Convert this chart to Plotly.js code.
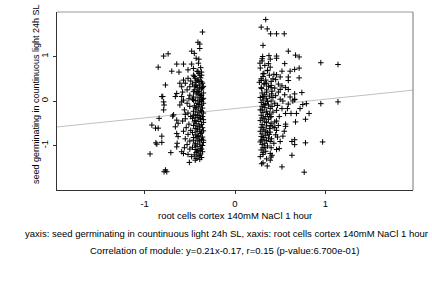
<!DOCTYPE html>
<html>
<head>
<meta charset="utf-8">
<script src="https://cdn.plot.ly/plotly-3.0.1.min.js"></script>
<style>html,body{margin:0;padding:0;background:#fff;}#chart{width:432px;height:288px;}</style>
</head>
<body>
<div id="chart"></div>
<script>
// ---- data ----
const xValues = [
// left cluster: upper part
-0.36,-0.41,-0.39,-0.39,-0.48,-0.45,-0.79,-0.74,-0.40,-0.43,-0.85,-0.645,-0.57,-0.48,-0.405,-0.70,-0.62,-0.52,-0.46,-0.42,-0.38,-0.40,-0.37,
-0.57,-0.61,-0.59,-0.52,-0.46,-0.44,-0.41,-0.39,-0.42,-0.37,-0.50,-0.53,-0.44,-0.39,-0.645,-0.66,-0.59,-0.50,-0.46,-0.41,-0.37,-0.35,-0.39,-0.46,-0.57,-0.77,-0.81,
// left cluster: outliers
-0.80,-0.79,-0.785,-0.79,-0.84,-0.92,-0.88,-0.85,-0.81,-0.876,-0.865,-0.81,-0.94,-0.71,-0.77,-0.755,-0.785,-0.69,-0.68,-0.645,-0.63,-0.66,-0.645,-0.63,-0.64,-0.645,-0.59,-0.57,-0.505,-0.61,-0.59,
// left cluster: dense column
-0.45,-0.38,-0.41,-0.36,-0.44,-0.39,-0.47,-0.42,-0.37,-0.45,-0.40,-0.35,-0.43,-0.38,-0.46,-0.41,-0.36,-0.44,-0.39,-0.35,-0.42,-0.37,-0.45,-0.40,-0.36,-0.43,-0.38,-0.46,-0.41,-0.35,-0.44,-0.39,-0.36,-0.42,-0.47,-0.38,-0.44,-0.40,-0.35,-0.43,-0.37,-0.46,-0.41,-0.36,-0.44,-0.39,-0.35,-0.42,-0.47,-0.38,-0.44,-0.40,-0.36,-0.43,-0.37,-0.46,-0.41,-0.35,-0.44,-0.39,-0.36,-0.42,-0.47,-0.38,-0.44,-0.40,-0.36,-0.43,-0.38,-0.45,-0.41,-0.37,-0.43,
-0.37,-0.40,-0.43,-0.36,-0.39,-0.42,-0.37,-0.40,-0.44,-0.37,-0.41,-0.38,-0.45,-0.39,-0.42,-0.37,-0.41,-0.39,-0.44,-0.37,-0.42,-0.39,-0.46,-0.46,-0.35,-0.35,-0.47,-0.35,
// left cluster: middle band
-0.55,-0.49,-0.53,-0.50,-0.56,-0.52,-0.49,-0.55,-0.58,-0.51,-0.54,-0.49,-0.57,-0.52,-0.55,-0.50,-0.53,-0.56,-0.50,-0.52,-0.48,-0.44,-0.39,-0.55,-0.58,-0.51,
// right cluster: upper part
0.34,0.29,0.357,0.394,0.46,0.545,0.31,0.59,0.67,0.71,0.306,0.376,0.46,0.30,0.46,0.39,0.95,1.14,0.71,0.66,0.61,0.71,0.59,0.59,0.50,0.74,0.66,0.59,0.56,
0.276,0.37,0.55,0.39,0.36,0.31,0.46,0.52,0.42,0.29,0.33,0.40,0.44,0.50,0.295,0.35,0.405,0.48,0.55,0.61,0.31,0.66,
// right cluster: lower part
1.14,0.95,0.79,0.75,0.66,0.64,0.82,0.78,0.67,0.72,0.68,0.62,0.56,0.49,0.58,0.52,0.59,0.56,0.56,0.545,0.53,0.45,0.47,0.66,0.63,0.66,0.78,0.97,0.50,0.39,0.46,0.49,0.40,0.39,0.41,0.40,0.31,0.31,0.295,0.31,0.357,0.63,0.52,0.766,0.39,
0.42,0.46,0.39,0.44,0.42,0.46,0.39,0.405,
// right cluster: dense column
0.30,0.33,0.28,0.36,0.31,0.38,0.29,0.34,0.40,0.27,0.32,0.37,0.29,0.35,0.41,0.30,0.33,0.38,0.28,0.35,0.31,0.40,0.29,0.34,0.37,0.30,0.33,0.39,0.28,0.35,0.31,0.38,0.29,0.34,0.30,0.37,0.28,0.33,0.40,0.30,0.35,0.29,0.38,0.32,0.28,0.36,0.30,0.34,0.29,0.37,0.31,0.35,0.28,0.33,0.30,0.36,0.29,0.34,0.31,0.28,0.35,
0.32,0.35,0.31,0.36,0.32,0.30,0.36,0.32,0.35,0.31,0.34,0.32,0.29,0.33,0.38,0.39,0.40,0.41,0.42,0.40,0.44,0.45,0.47,0.50,0.53,0.44,0.46,0.48,0.43,0.43,0.45,0.48,0.52
];
const yValues = [
1.55,1.32,1.28,1.18,1.12,1.07,1.01,1.06,0.94,0.96,0.76,0.83,0.83,0.83,0.85,0.67,0.65,0.70,0.73,0.67,0.75,0.62,0.65,
0.47,0.40,0.32,0.51,0.58,0.51,0.66,0.58,0.47,0.43,0.32,0.25,0.32,0.29,0.17,0.10,0.10,0.13,0.21,0.21,0.13,0.06,0.02,0.02,0.02,0.36,0.10,
0.10,-0.02,-0.09,-0.20,-0.39,-0.54,-0.61,-0.61,-0.79,-0.94,-0.97,-0.93,-1.19,-1.16,-1.55,-1.59,-1.59,-0.34,-0.31,-0.43,-0.50,-0.58,-0.73,-0.80,-0.95,-1.03,-1.14,-1.18,-1.38,-0.09,-0.02,
0.55,0.52,0.47,0.40,0.42,0.36,0.38,0.31,0.27,0.25,0.22,0.18,0.16,0.12,0.09,0.07,0.04,0.01,-0.02,-0.05,-0.06,-0.09,-0.11,-0.13,-0.16,-0.18,-0.21,-0.23,-0.25,-0.27,-0.30,-0.32,-0.35,-0.37,-0.39,-0.41,-0.44,-0.46,-0.48,-0.51,-0.53,-0.55,-0.58,-0.60,-0.62,-0.65,-0.67,-0.69,-0.71,-0.73,-0.76,-0.78,-0.81,-0.83,-0.86,-0.88,-0.90,-0.93,-0.95,-0.97,-1.00,-1.02,-1.04,-1.06,-1.09,-1.11,-1.14,-1.16,-1.19,-1.21,-1.24,-1.27,-1.29,
0.58,0.44,0.35,0.30,0.14,0.20,-0.01,-0.08,-0.15,-0.24,-0.33,-0.39,-0.47,-0.56,-0.63,-0.70,-0.80,-0.88,-0.99,-1.08,-1.13,-1.22,-0.33,-0.82,-0.42,-0.88,0.04,0.33,
0.40,0.45,-0.05,-0.12,-0.20,-0.27,-0.35,-0.40,-0.45,-0.52,-0.60,-0.66,-0.68,-0.75,-0.85,-0.90,-0.98,-1.05,-1.08,-1.20,-1.25,-1.33,-1.31,-0.30,0.20,0.05,
1.83,1.66,1.62,1.51,1.51,1.51,1.25,1.12,1.03,0.99,1.00,1.02,1.01,0.95,0.96,0.94,0.86,0.82,0.74,0.71,0.67,0.52,0.54,0.46,0.54,0.19,0.16,0.26,0.30,
0.85,0.84,0.84,0.76,0.69,0.61,0.59,0.67,0.50,0.46,0.39,0.35,0.29,0.26,0.28,0.20,0.16,0.20,0.14,0.09,0.09,0.04,
-0.02,-0.06,-0.06,-0.08,0.03,0.00,-0.28,-0.41,-0.47,-0.17,-0.28,-0.28,-0.28,-0.35,-0.17,-0.17,-0.07,-0.52,-0.57,-0.68,-0.79,-0.76,-0.81,-0.87,-0.91,-0.98,-0.94,-0.92,-0.91,-0.91,-1.09,-1.07,-1.05,-1.18,-1.22,-1.26,-1.05,-1.20,-1.41,-1.39,-1.46,-1.22,-1.48,-1.60,-1.33,
-0.25,-0.21,-0.36,-0.47,-0.58,-0.66,-0.70,-0.85,
0.90,0.80,0.74,0.68,0.55,0.58,0.50,0.47,0.44,0.42,0.38,0.33,0.30,0.25,0.22,0.18,0.14,0.11,0.08,0.05,0.02,0.00,-0.03,-0.06,-0.09,-0.12,-0.15,-0.17,-0.20,-0.23,-0.26,-0.29,-0.32,-0.35,-0.38,-0.41,-0.44,-0.47,-0.50,-0.53,-0.56,-0.59,-0.62,-0.65,-0.68,-0.71,-0.74,-0.77,-0.80,-0.83,-0.86,-0.89,-0.92,-0.95,-0.98,-1.01,-1.10,-1.13,-1.16,-1.25,-1.30,
0.62,0.40,0.10,-0.01,-0.08,-0.20,-0.30,-0.40,-0.48,-0.60,-0.68,-0.82,-0.88,-1.05,-0.75,-0.55,-0.35,-0.12,0.08,0.30,-0.05,0.12,-0.10,0.04,0.00,-0.60,-0.45,-0.55,-0.95,0.60,0.48,0.38,0.34
];
const fitSlope = 0.21;
const fitIntercept = -0.17;
const xRange = [-1.97, 1.97];
const yRange = [-2.0, 2.0];
const tickVals = [-1, 0, 1];
const tickText = ["-1", "0", "1"];
const yTitle = "seed germinating in countinuous light 24h SL";
const xTitle = "root cells cortex 140mM NaCl 1 hour";
const caption1 = "yaxis: seed germinating in countinuous light 24h SL, xaxis: root cells cortex 140mM NaCl 1 hour";
const caption2 = "Correlation of module: y=0.21x-0.17, r=0.15 (p-value:6.700e-01)";

const fitX = xRange.slice();
const fitY = fitX.map(v => fitSlope * v + fitIntercept);

const FONT = "Liberation Sans, Arial, sans-serif";
const TS = 9.5;
const traces = [
  {x: fitX, y: fitY, mode: 'lines', line: {color: '#c0c0c0', width: 1}, hoverinfo: 'skip'},
  {x: xValues, y: yValues, mode: 'markers', type: 'scatter',
   marker: {symbol: 'cross-thin', size: 4, color: '#000', line: {color: '#000', width: 1}}}
];
const W = 432, H = 288, L = 57, R = 19, T = 12, B = 98;
const PH = H - T - B, PW = W - L - R;
function px2paperY(p){ return (H - B - p) / PH; }
function px2paperX(p){ return (p - L) / PW; }
const layout = {
  width: W, height: H, showlegend: false,
  margin: {l: L, r: R, t: T, b: B, pad: 0},
  paper_bgcolor: '#fff', plot_bgcolor: '#fff',
  font: {family: FONT, size: TS, color: '#000'},
  xaxis: {range: xRange, tickvals: tickVals, ticktext: tickText, showgrid: false, zeroline: false,
          showline: true, linecolor: '#333', linewidth: 1, ticks: 'outside', ticklen: 3, tickcolor: '#333',
          ticklabelstandoff: 2, tickfont: {family: FONT, size: TS}, fixedrange: true},
  yaxis: {range: yRange, tickvals: tickVals, ticktext: tickText, showgrid: false, zeroline: false,
          showline: true, linecolor: '#333', linewidth: 1, ticks: 'outside', ticklen: 3, tickcolor: '#333',
          ticklabelstandoff: 1, tickangle: -90, tickfont: {family: FONT, size: TS}, fixedrange: true},
  shapes: [
    {type: 'line', xref: 'paper', yref: 'paper', x0: 0, x1: 1, y0: 1, y1: 1, line: {color: '#999', width: 1}},
    {type: 'line', xref: 'paper', yref: 'paper', x0: 1, x1: 1, y0: 0, y1: 1, line: {color: '#777', width: 1}}
  ],
  annotations: [
    {text: yTitle, xref: 'paper', yref: 'paper', x: px2paperX(36), y: px2paperY(94), textangle: -90,
     showarrow: false, xanchor: 'center', yanchor: 'middle', font: {family: FONT, size: 9}},
    {text: xTitle, xref: 'paper', yref: 'paper', x: px2paperX(235), y: px2paperY(215),
     showarrow: false, xanchor: 'center', yanchor: 'middle', font: {family: FONT, size: TS}},
    {text: caption1, xref: 'paper', yref: 'paper', x: px2paperX(226), y: px2paperY(233),
     showarrow: false, xanchor: 'center', yanchor: 'middle', font: {family: FONT, size: TS}},
    {text: caption2, xref: 'paper', yref: 'paper', x: px2paperX(224), y: px2paperY(250),
     showarrow: false, xanchor: 'center', yanchor: 'middle', font: {family: FONT, size: TS}}
  ]
};
Plotly.newPlot('chart', traces, layout, {staticPlot: true, displayModeBar: false});
</script>
</body>
</html>
